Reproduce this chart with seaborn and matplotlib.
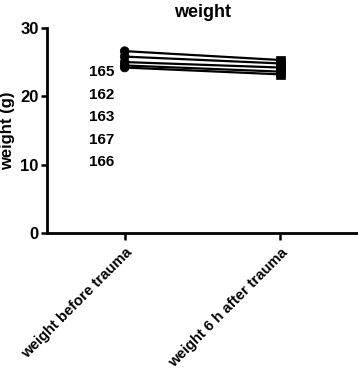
import pandas as pd
import numpy as np
import matplotlib
matplotlib.use('Agg')
import matplotlib.pyplot as plt
import seaborn as sns

# Data
timepoints = ['weight before trauma', 'weight 6 h after trauma']
mice = ['165', '162', '163', '167', '166']
weight_before = [26.6, 25.8, 25.0, 24.5, 24.2]
weight_after = [25.3, 24.8, 24.2, 23.6, 23.2]

rows = []
for i, m in enumerate(mice):
    rows.append({'mouse': m, 'time': timepoints[0], 'weight': weight_before[i]})
    rows.append({'mouse': m, 'time': timepoints[1], 'weight': weight_after[i]})
df = pd.DataFrame(rows)
df['time'] = pd.Categorical(df['time'], categories=timepoints, ordered=True)
df['x'] = df['time'].cat.codes

sns.set_style('ticks')
plt.rcParams['font.family'] = ['Liberation Sans', 'DejaVu Sans']
plt.rcParams['font.weight'] = 'bold'
plt.rcParams['text.color'] = 'black'
plt.rcParams['axes.labelcolor'] = 'black'
plt.rcParams['xtick.color'] = 'black'
plt.rcParams['ytick.color'] = 'black'
plt.rcParams['axes.edgecolor'] = 'black'

fig = plt.figure(figsize=(3.58, 3.72), dpi=100)
ax = fig.add_axes([0.131, 0.374, 0.869, 0.551])

black = {m: 'black' for m in mice}
sns.lineplot(data=df, x='x', y='weight', hue='mouse', palette=black,
             linewidth=1.6, legend=False, ax=ax, sort=False)
sns.scatterplot(data=df, x='x', y='weight', style='time', markers=['o', 's'],
                color='black', s=40, edgecolor='black', legend=False, ax=ax)

# legend: names only, no symbols
handles = [plt.Line2D([], [], linestyle='none') for _ in mice]
leg = ax.legend(handles, mice, loc='upper left', bbox_to_anchor=(0.09, 0.885),
                frameon=False, handlelength=0, handletextpad=0,
                labelspacing=0.56, fontsize=11)
for t in leg.get_texts():
    t.set_fontweight('bold')

ax.set_xlim(-0.5, 1.5)
ax.set_ylim(0, 30)
ax.set_yticks([0, 10, 20, 30])
ax.set_xticks(range(len(timepoints)))
ax.set_xticklabels(timepoints, rotation=45, ha='right', rotation_mode='anchor',
                   fontsize=10.7, fontweight='bold')
ax.tick_params(axis='y', labelsize=12, width=1.8, length=4, pad=2)
ax.tick_params(axis='x', width=1.8, length=5, pad=4)
for lab in ax.get_yticklabels():
    lab.set_fontweight('bold')
ax.set_xlabel('')
ax.set_ylabel('weight (g)', fontsize=12, fontweight='bold', labelpad=4)
ax.set_title('weight', fontsize=13, fontweight='bold', pad=8)
sns.despine(ax=ax)
for sp in ['left', 'bottom']:
    ax.spines[sp].set_linewidth(2)

fig.savefig('out.png', dpi=100)
